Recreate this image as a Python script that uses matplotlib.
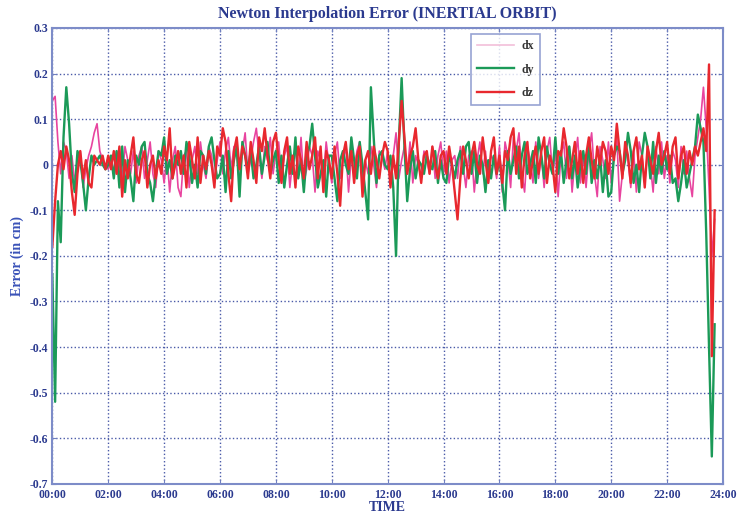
import matplotlib
matplotlib.use('Agg')
import matplotlib.pyplot as plt
import numpy as np
from matplotlib import rcParams

rcParams['font.family'] = 'serif'
rcParams['font.serif'] = ['Liberation Serif', 'DejaVu Serif']
rcParams['axes.unicode_minus'] = False

# sample times in hours, one point every 6 minutes
hours = np.round(np.arange(0, 23.75, 0.1), 1)

dx = [
    0.14, 0.15, 0.05, -0.02, 0.05, 0.03, -0.03, 0.02, -0.04, 0.01, 0.03, -0.05, -0.01, 0.02, 0.04, 0.07, 0.09, 0.03, 0.01, 0.00,
    -0.01, 0.02, -0.02, 0.03, 0.00, -0.03, 0.04, 0.01, -0.02, 0.03, -0.04, 0.02, 0.04, -0.03, 0.01, 0.05, -0.02, -0.05, 0.03, 0.01,
    -0.04, 0.02, -0.06, 0.01, 0.04, -0.05, -0.07, 0.02, 0.03, -0.05, 0.01, 0.04, -0.02, 0.05, 0.00, -0.03, 0.04, 0.02, -0.04, 0.01,
    0.05, -0.02, 0.03, 0.06, -0.01, 0.04, 0.02, -0.04, 0.03, 0.07, -0.02, 0.01, 0.05, 0.08, 0.02, -0.03, 0.04, 0.01, 0.06, -0.02,
    0.03, 0.05, -0.03, 0.02, 0.04, -0.05, 0.01, 0.03, -0.02, 0.06, -0.04, -0.01, 0.04, 0.02, -0.06, 0.03, 0.01, -0.03, 0.05, 0.00,
    -0.04, 0.02, 0.05, -0.03, 0.01, 0.04, -0.06, 0.02, -0.02, 0.03, 0.05, -0.04, 0.01, -0.02, 0.04, 0.00, -0.05, 0.03, 0.02, -0.01,
    0.03, -0.04, 0.02, 0.07, -0.03, 0.01, 0.04, -0.02, 0.05, -0.04, 0.02, 0.00, -0.03, 0.03, 0.01, -0.02, 0.04, -0.03, 0.02, 0.05,
    -0.02, 0.03, -0.04, 0.01, 0.02, -0.03, 0.04, 0.00, -0.05, 0.02, 0.03, -0.06, 0.01, 0.05, -0.02, 0.03, -0.04, 0.02, 0.01, -0.03,
    0.04, -0.06, 0.05, 0.02, -0.05, 0.06, 0.03, 0.07, -0.02, -0.06, 0.04, 0.01, -0.04, 0.05, -0.03, 0.02, -0.05, 0.03, 0.06, -0.02,
    0.03, -0.07, 0.02, 0.05, -0.03, 0.04, -0.06, 0.01, 0.06, -0.04, 0.02, -0.05, 0.03, 0.07, -0.02, -0.07, 0.04, 0.01, -0.03, 0.05,
    -0.04, 0.02, 0.06, -0.08, -0.02, 0.04, 0.01, -0.05, 0.03, -0.06, 0.05, 0.02, -0.04, 0.03, 0.00, -0.06, 0.04, -0.02, 0.05, -0.03,
    0.02, -0.04, 0.03, 0.01, -0.05, 0.04, -0.02, 0.03, -0.03, -0.07, 0.02, 0.06, 0.10, 0.17, 0.08, -0.05, -0.20, -0.12,
]

dy = [
    -0.24, -0.52, -0.08, -0.17, 0.06, 0.17, 0.09, -0.02, -0.06, 0.03, 0.01, -0.04, -0.10, -0.03, 0.02, 0.00, 0.01, 0.02, 0.00, -0.01,
    0.00, 0.02, -0.03, 0.03, -0.05, 0.04, -0.06, 0.01, -0.03, -0.08, 0.02, 0.00, 0.04, 0.05, -0.02, -0.04, -0.08, -0.02, 0.03, 0.02,
    0.06, -0.02, 0.01, -0.03, 0.02, 0.00, 0.03, -0.02, 0.05, 0.02, -0.04, 0.00, -0.05, 0.03, 0.02, -0.02, 0.04, 0.06, 0.01, -0.03,
    -0.02, 0.02, -0.06, 0.03, -0.03, 0.01, 0.04, -0.07, 0.05, 0.02, -0.01, 0.03, -0.03, 0.00, 0.04, -0.02, 0.02, 0.05, -0.02, 0.01,
    0.03, -0.04, 0.02, -0.05, 0.00, 0.04, -0.02, 0.06, -0.03, 0.01, -0.06, 0.02, 0.04, 0.09, 0.02, -0.05, -0.02, 0.01, -0.07, 0.02,
    0.02, -0.03, -0.08, 0.01, 0.03, 0.00, -0.02, 0.06, 0.01, -0.03, 0.05, 0.00, -0.06, -0.12, 0.17, 0.06, -0.04, 0.02, 0.03, 0.00,
    -0.01, 0.02, -0.05, -0.20, 0.05, 0.19, 0.04, -0.08, -0.01, 0.03, -0.03, 0.01, 0.00, -0.02, 0.02, 0.00, -0.01, 0.03, -0.04, 0.01,
    -0.03, -0.04, 0.02, 0.00, -0.03, 0.01, 0.03, -0.02, 0.04, 0.05, -0.02, 0.03, -0.04, 0.02, 0.00, -0.06, 0.01, -0.03, 0.02, -0.02,
    0.01, -0.04, -0.10, 0.03, -0.02, 0.01, 0.04, -0.03, 0.02, 0.05, -0.02, 0.00, 0.03, -0.04, 0.06, 0.02, -0.03, 0.04, 0.00, -0.02,
    0.06, -0.02, 0.03, -0.04, 0.01, 0.04, -0.03, 0.02, -0.05, 0.00, 0.03, -0.02, 0.05, -0.04, 0.01, -0.03, 0.02, -0.06, 0.01, -0.07,
    -0.06, 0.02, 0.04, 0.03, -0.02, 0.01, 0.07, 0.03, -0.04, 0.00, -0.06, 0.02, 0.07, 0.04, -0.03, 0.05, -0.04, 0.02, -0.02, 0.03,
    -0.01, 0.02, -0.04, -0.03, -0.08, -0.04, 0.01, -0.05, -0.02, 0.01, 0.04, 0.11, 0.08, 0.05, -0.15, -0.40, -0.64, -0.35,
]

dz = [
    -0.18, -0.08, 0.00, 0.03, -0.01, 0.04, 0.01, -0.06, -0.11, -0.02, 0.03, -0.03, 0.01, -0.04, -0.05, 0.02, 0.01, 0.00, 0.02, -0.01,
    0.02, -0.01, 0.03, -0.02, 0.04, -0.07, 0.01, -0.03, 0.02, 0.06, -0.02, -0.04, 0.01, 0.03, -0.05, 0.00, 0.02, -0.03, 0.01, -0.02,
    0.04, 0.01, 0.08, -0.03, 0.00, 0.03, -0.02, 0.02, -0.05, 0.05, 0.01, -0.03, 0.06, -0.04, 0.02, -0.01, 0.03, 0.00, -0.05, 0.04,
    0.02, 0.08, 0.05, -0.02, -0.08, 0.03, 0.06, -0.01, 0.04, 0.02, -0.03, 0.05, 0.01, -0.04, 0.06, 0.03, 0.08, 0.02, -0.03, 0.05,
    0.07, 0.01, -0.04, 0.03, 0.06, -0.02, 0.02, -0.05, 0.04, 0.01, -0.03, 0.05, -0.01, 0.02, 0.06, -0.03, 0.04, -0.06, 0.03, 0.01,
    -0.03, 0.04, -0.02, -0.09, 0.02, 0.05, -0.01, 0.03, -0.04, 0.02, 0.04, -0.07, 0.01, 0.03, -0.02, 0.04, 0.01, -0.03, 0.02, 0.05,
    0.03, -0.05, 0.02, -0.03, 0.05, 0.14, 0.06, -0.02, 0.02, 0.04, 0.08, 0.01, -0.04, 0.02, 0.03, -0.02, 0.04, 0.00, -0.03, 0.02,
    0.03, -0.02, 0.04, 0.00, -0.06, -0.12, -0.03, 0.04, 0.01, -0.03, 0.02, 0.05, 0.00, -0.02, 0.06, 0.01, -0.04, 0.03, 0.06, -0.02,
    0.02, -0.04, 0.03, 0.01, 0.06, 0.08, -0.02, 0.04, -0.05, 0.02, 0.05, -0.03, 0.01, 0.04, -0.02, 0.03, 0.06, -0.04, 0.02, 0.00,
    -0.06, 0.03, 0.02, 0.08, 0.04, -0.03, 0.01, 0.05, -0.02, 0.03, -0.04, 0.02, 0.06, 0.01, -0.03, 0.04, 0.00, 0.05, 0.03, -0.02,
    0.04, 0.01, 0.09, 0.03, -0.03, 0.05, 0.02, -0.04, 0.03, 0.06, -0.01, 0.02, -0.05, 0.04, 0.01, -0.02, 0.03, 0.07, 0.00, 0.02,
    0.05, -0.02, 0.04, 0.06, -0.03, 0.02, 0.04, -0.02, 0.03, 0.00, 0.04, 0.02, 0.05, 0.08, 0.03, 0.22, -0.42, -0.10,
]

x_ticks = np.arange(0, 25, 2)
x_labels = ['%02d:00' % h for h in x_ticks]
y_ticks = np.round(np.arange(-0.7, 0.31, 0.1), 1)
y_labels = ['0' if v == 0 else '%.1f' % v for v in y_ticks]

text_blue = '#2b3a8f'
grid_blue = '#4a5aa8'

fig = plt.figure(figsize=(7.37, 5.18), dpi=100)
ax = fig.add_axes([0.071, 0.066, 0.910, 0.880])

ax.plot(hours, dx, color='#e8449f', lw=1.2, label='dx')
ax.plot(hours, dy, color='#1b9a58', lw=1.7, label='dy')
ax.plot(hours, dz, color='#e8282e', lw=1.7, label='dz')

ax.set_xlim(0, 24)
ax.set_ylim(-0.7, 0.3)
ax.set_xticks(x_ticks)
ax.set_xticklabels(x_labels)
ax.set_yticks(y_ticks)
ax.set_yticklabels(y_labels)
ax.tick_params(direction='in', top=True, right=True, length=3, color='#7080c0',
               labelsize=8.5, labelcolor=text_blue)
ax.tick_params(axis='x', pad=4)
ax.tick_params(axis='y', pad=3)
for lab in ax.get_xticklabels() + ax.get_yticklabels():
    lab.set_fontweight('bold')

ax.grid(True, linestyle=':', color=grid_blue, lw=1.0)
for sp in ax.spines.values():
    sp.set_color('#7d8cc8')
    sp.set_linewidth(1.5)

ax.set_title('Newton Interpolation Error (INERTIAL ORBIT)', color=text_blue,
             fontsize=11.5, fontweight='bold', pad=7)
ax.set_xlabel('TIME', color=text_blue, fontsize=10, fontweight='bold', labelpad=0)
ax.set_ylabel('Error (in cm)', color='#3a52b8', fontsize=10, fontweight='bold', labelpad=4)

leg = ax.legend(loc='upper left', bbox_to_anchor=(0.615, 1.0), fontsize=8.5,
                frameon=True, fancybox=False, handlelength=3.2, borderpad=0.5,
                labelspacing=1.0, handletextpad=0.6)
leg.get_frame().set_edgecolor('#7d8cc8')
leg.get_frame().set_linewidth(1.2)
leg.get_lines()[0].set_color('#f2bfd9')
for t in leg.get_texts():
    t.set_fontweight('bold')
    t.set_color('#333333')

plt.savefig('out.png', dpi=100)
